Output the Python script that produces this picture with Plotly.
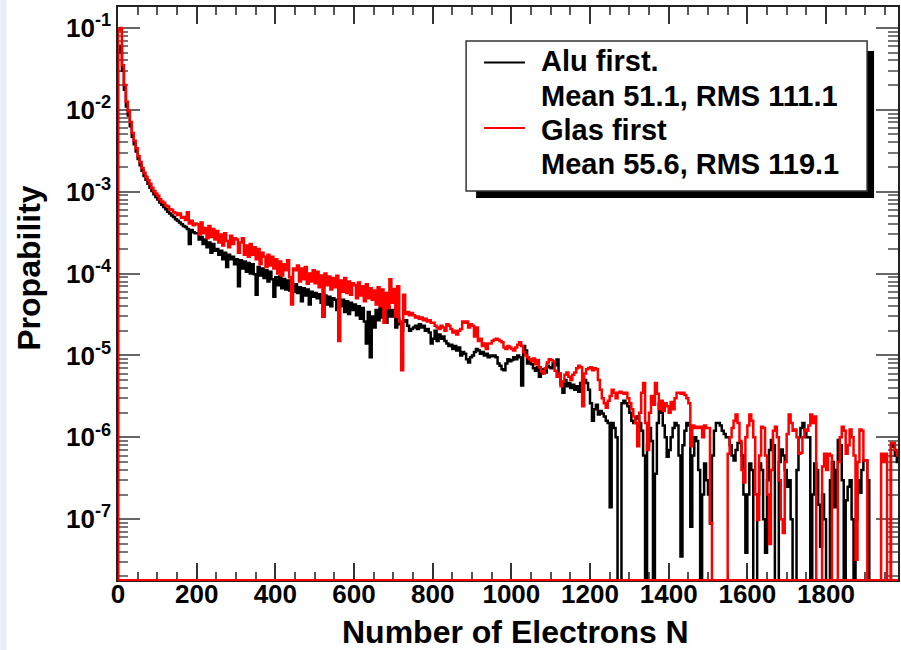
import plotly.graph_objects as go

# Histogram contents, bin width 5 electrons, starting at N = 0
BIN_WIDTH = 5

alu_first = [
    5.0e-2, 6.0e-2, 3.0e-2, 1.75e-2, 1.1e-2, 8.5e-3, 6.3e-3, 4.7e-3, 3.8e-3, 3.1e-3,
    2.5e-3, 2.1e-3, 1.8e-3, 1.55e-3, 1.4e-3, 1.25e-3, 1.12e-3, 1.02e-3, 9.3e-4, 8.6e-4,
    8.0e-4, 7.4e-4, 6.9e-4, 6.5e-4, 6.1e-4, 5.7e-4, 5.4e-4, 5.1e-4, 4.9e-4, 4.6e-4,
    4.4e-4, 4.2e-4, 4.0e-4, 3.8e-4, 3.7e-4, 3.5e-4, 2.3e-4, 3.4e-4, 3.2e-4, 3.1e-4,
    3.1e-4, 2.6e-4, 2.8e-4, 2.3e-4, 2.6e-4, 2.1e-4, 2.4e-4, 1.8e-4, 2.3e-4, 1.9e-4,
    2.0e-4, 1.7e-4, 1.9e-4, 1.5e-4, 1.8e-4, 1.2e-4, 1.7e-4, 1.5e-4, 1.6e-4, 1.3e-4,
    1.5e-4, 7.0e-5, 1.45e-4, 1.15e-4, 1.4e-4, 1.05e-4, 1.35e-4, 1.0e-4, 1.3e-4, 9.8e-5,
    5.5e-5, 1.2e-4, 9.5e-5, 1.15e-4, 8.8e-5, 1.1e-4, 8.0e-5, 1.05e-4, 8.5e-5, 5.2e-5,
    9.0e-5, 7.2e-5, 9.2e-5, 6.6e-5, 8.6e-5, 6.4e-5, 8.2e-5, 6.2e-5, 7.8e-5, 6.0e-5,
    7.4e-5, 5.8e-5, 6.8e-5, 4.6e-5, 6.6e-5, 5.4e-5, 6.4e-5, 4.2e-5, 6.0e-5, 5.2e-5,
    5.8e-5, 5.0e-5, 5.6e-5, 4.4e-5, 3.0e-5, 5.4e-5, 4.2e-5, 5.2e-5, 4.0e-5, 5.0e-5,
    4.8e-5, 3.6e-5, 4.6e-5, 4.0e-5, 4.8e-5, 3.4e-5, 4.6e-5, 3.2e-5, 4.4e-5, 3.6e-5,
    4.2e-5, 3.1e-5, 4.0e-5, 2.8e-5, 3.8e-5, 2.6e-5, 1.4e-5, 3.4e-5, 9.5e-6, 3.0e-5,
    2.2e-5, 3.6e-5, 2.7e-5, 3.8e-5, 2.9e-5, 3.7e-5, 2.5e-5, 3.9e-5, 3.0e-5, 3.6e-5,
    3.0e-5, 2.2e-5, 2.8e-5, 2.4e-5, 2.0e-5, 2.6e-5, 2.7e-5, 2.3e-5, 2.0e-5, 2.1e-5,
    2.2e-5, 2.3e-5, 2.1e-5, 2.4e-5, 2.2e-5, 2.3e-5, 2.0e-5, 2.1e-5, 1.9e-5, 1.4e-5,
    1.6e-5, 2.0e-5, 1.5e-5, 1.8e-5, 1.6e-5, 1.7e-5, 1.5e-5, 1.4e-5, 1.3e-5, 1.35e-5,
    1.2e-5, 1.3e-5, 1.15e-5, 1.25e-5, 1.0e-5, 1.1e-5, 1.05e-5, 9.0e-6, 8.2e-6, 9.5e-6,
    1.0e-5, 1.1e-5, 1.2e-5, 1.15e-5, 1.05e-5, 1.1e-5, 1.0e-5, 1.05e-5, 9.5e-6, 1.0e-5,
    9.8e-6, 1.0e-5, 9.5e-6, 8.0e-6, 7.5e-6, 6.8e-6, 6.6e-6, 8.0e-6, 9.0e-6, 8.5e-6,
    8.8e-6, 9.5e-6, 9.0e-6, 1.0e-5, 9.5e-6, 4.3e-6, 1.3e-5, 1.15e-5, 8.0e-6, 8.5e-6,
    7.8e-6, 7.0e-6, 6.5e-6, 7.2e-6, 5.5e-6, 6.0e-6, 6.8e-6, 6.2e-6, 7.5e-6, 7.2e-6,
    7.0e-6, 8.0e-6, 7.6e-6, 8.9e-6, 6.0e-6, 4.5e-6, 3.5e-6, 5.0e-6, 4.2e-6, 4.6e-6,
    4.0e-6, 4.4e-6, 3.8e-6, 4.2e-6, 3.6e-6, 4.6e-6, 4.8e-6, 5.0e-6, 4.6e-6, 3.8e-6,
    2.6e-6, 1.6e-6, 2.2e-6, 2.5e-6, 1.9e-6, 2.1e-6, 1.95e-6, 1.8e-6, 1.6e-6, 1.5e-6,
    1.4e-7, 1.5e-6, 1.3e-6, 1.0e-6, 0, 0, 2.6e-6, 2.8e-6, 2.6e-6, 2.4e-6,
    2.0e-6, 1.6e-6, 1.5e-6, 1.7e-6, 1.8e-6, 1.5e-6, 1.2e-6, 6.0e-7, 0, 8.0e-7,
    1.3e-6, 9.0e-7, 0, 3.6e-7, 1.5e-6, 2.6e-6, 2.0e-6, 1.4e-6, 1.0e-6, 5.8e-7,
    7.0e-7, 1.0e-6, 1.3e-6, 1.5e-6, 1.4e-6, 6.0e-7, 3.5e-8, 8.0e-7, 1.2e-6, 1.5e-6,
    1.4e-6, 8.1e-8, 6.0e-7, 1.0e-6, 9.0e-7, 4.0e-7, 0, 2.0e-7, 4.8e-7, 3.0e-7,
    2.0e-7, 8.9e-8, 6.0e-7, 1.2e-6, 1.5e-6, 1.5e-6, 1.4e-6, 1.2e-6, 1.1e-6, 1.0e-6,
    1.0e-6, 8.0e-7, 6.0e-7, 5.2e-7, 7.0e-7, 8.5e-7, 8.5e-7, 6.0e-7, 2.0e-7, 3.9e-8,
    2.0e-7, 4.8e-7, 4.0e-7, 0, 0, 2.0e-7, 4.8e-7, 4.0e-7, 1.0e-7, 3.9e-8,
    3.0e-7, 7.0e-7, 9.3e-7, 8.0e-7, 0, 0, 5.0e-7, 7.1e-7, 6.0e-7, 4.0e-7,
    2.5e-7, 3.0e-7, 1.0e-7, 0, 0, 4.0e-7, 1.0e-6, 1.3e-6, 1.5e-6, 1.2e-6,
    1.0e-6, 1.0e-6, 0, 2.0e-7, 4.8e-7, 4.0e-7, 1.5e-7, 4.6e-8, 2.0e-7, 1.0e-7,
    0, 0, 3.0e-7, 5.0e-7, 1.4e-7, 4.0e-7, 9.3e-7, 8.0e-7, 3.0e-7, 0,
    1.7e-7, 2.5e-7, 3.0e-7, 1.0e-7, 0, 1.0e-7, 3.0e-7, 2.1e-7, 4.0e-7, 5.2e-7,
    5.2e-7, 3.0e-7, 0, 0, 0, 0, 0, 0, 0, 0,
    0, 0, 0, 7.7e-7, 8.0e-7, 6.0e-7, 5.0e-7,
]

glas_first = [
    9.5e-2, 1.0e-1, 3.5e-2, 2.0e-2, 1.25e-2, 9.5e-3, 7.1e-3, 5.2e-3, 4.2e-3, 3.4e-3,
    2.7e-3, 2.3e-3, 1.95e-3, 1.7e-3, 1.52e-3, 1.38e-3, 1.25e-3, 1.12e-3, 1.02e-3, 9.5e-4,
    8.9e-4, 8.1e-4, 7.6e-4, 7.3e-4, 6.8e-4, 6.6e-4, 6.1e-4, 6.0e-4, 5.6e-4, 5.5e-4,
    5.2e-4, 5.4e-4, 4.8e-4, 4.9e-4, 4.5e-4, 5.6e-4, 4.1e-4, 4.4e-4, 3.9e-4, 4.1e-4,
    4.0e-4, 3.0e-4, 4.2e-4, 3.1e-4, 3.6e-4, 2.7e-4, 3.8e-4, 2.8e-4, 3.5e-4, 2.6e-4,
    3.3e-4, 2.4e-4, 3.0e-4, 2.2e-4, 3.1e-4, 2.5e-4, 2.1e-4, 2.9e-4, 2.3e-4, 2.7e-4,
    2.6e-4, 1.8e-4, 2.4e-4, 2.7e-4, 1.7e-4, 2.2e-4, 1.6e-4, 2.3e-4, 1.7e-4, 2.1e-4,
    1.5e-4, 2.0e-4, 1.3e-4, 1.8e-4, 1.6e-4, 1.2e-4, 1.7e-4, 1.25e-4, 1.6e-4, 1.15e-4,
    1.5e-4, 1.0e-4, 1.4e-4, 9.5e-5, 1.3e-4, 1.1e-4, 1.45e-4, 9.0e-5, 4.2e-5, 1.15e-4,
    1.1e-4, 1.25e-4, 8.0e-5, 1.15e-4, 8.5e-5, 1.2e-4, 7.5e-5, 1.0e-4, 8.0e-5, 1.1e-4,
    7.6e-5, 1.05e-4, 6.8e-5, 9.5e-5, 3.0e-5, 1.0e-4, 7.2e-5, 9.2e-5, 6.4e-5, 8.8e-5,
    6.8e-5, 9.4e-5, 1.5e-5, 8.2e-5, 6.0e-5, 8.8e-5, 5.8e-5, 8.0e-5, 5.5e-5, 7.6e-5,
    7.2e-5, 5.0e-5, 7.8e-5, 5.4e-5, 7.0e-5, 4.6e-5, 7.4e-5, 5.0e-5, 6.6e-5, 4.8e-5,
    6.2e-5, 4.2e-5, 6.8e-5, 4.0e-5, 6.4e-5, 2.5e-5, 5.8e-5, 3.8e-5, 8.5e-5, 4.4e-5,
    6.5e-5, 3.0e-5, 7.0e-5, 2.6e-5, 6.6e-6, 5.5e-5, 3.2e-5, 3.4e-5, 3.1e-5, 3.3e-5,
    3.1e-5, 2.9e-5, 3.0e-5, 2.8e-5, 2.9e-5, 2.7e-5, 2.8e-5, 2.6e-5, 2.7e-5, 2.5e-5,
    2.5e-5, 2.3e-5, 2.2e-5, 2.1e-5, 2.3e-5, 2.2e-5, 2.0e-5, 2.4e-5, 2.3e-5, 2.1e-5,
    1.9e-5, 2.0e-5, 1.8e-5, 2.0e-5, 2.1e-5, 2.6e-5, 2.5e-5, 2.6e-5, 2.2e-5, 2.4e-5,
    2.3e-5, 1.7e-5, 2.2e-5, 1.5e-5, 1.6e-5, 1.3e-5, 1.4e-5, 1.2e-5, 1.4e-5, 1.4e-5,
    1.5e-5, 1.55e-5, 1.6e-5, 1.55e-5, 1.5e-5, 1.45e-5, 1.25e-5, 1.2e-5, 1.3e-5, 1.25e-5,
    1.2e-5, 1.15e-5, 1.25e-5, 1.35e-5, 1.45e-5, 1.3e-5, 1.1e-5, 1.0e-5, 9.5e-6, 9.0e-6,
    8.5e-6, 9.2e-6, 7.8e-6, 8.8e-6, 7.2e-6, 6.4e-6, 6.0e-6, 7.0e-6, 8.2e-6, 9.0e-6,
    8.8e-6, 8.5e-6, 6.5e-6, 5.5e-6, 6.0e-6, 4.2e-6, 4.8e-6, 5.8e-6, 6.2e-6, 5.5e-6,
    5.0e-6, 5.8e-6, 6.2e-6, 7.0e-6, 7.5e-6, 7.2e-6, 2.4e-6, 6.0e-6, 6.8e-6, 7.0e-6,
    7.2e-6, 6.6e-6, 7.0e-6, 6.8e-6, 5.0e-6, 3.8e-6, 3.0e-6, 2.6e-6, 2.3e-6, 2.8e-6,
    3.2e-6, 3.8e-6, 3.5e-6, 3.0e-6, 3.5e-6, 3.6e-6, 3.5e-6, 3.4e-6, 3.5e-6, 3.0e-6,
    2.6e-6, 2.2e-6, 1.8e-6, 1.5e-6, 7.8e-7, 2.0e-6, 3.5e-6, 4.6e-6, 1.5e-6, 7.0e-7,
    2.0e-6, 3.2e-6, 2.5e-6, 4.6e-6, 3.4e-6, 2.2e-6, 2.8e-6, 2.1e-6, 2.6e-6, 2.4e-6,
    2.0e-6, 2.7e-6, 2.2e-6, 3.0e-6, 3.5e-6, 3.5e-6, 3.4e-6, 3.5e-6, 3.3e-6, 3.0e-6,
    2.6e-6, 7.8e-7, 1.4e-6, 1.3e-6, 1.35e-6, 1.3e-6, 1.35e-6, 1.0e-6, 1.4e-6, 1.3e-6,
    1.3e-6, 9.0e-8, 0, 0, 0, 0, 0, 0, 0, 0,
    6.3e-7, 1.0e-6, 1.3e-6, 1.6e-6, 1.9e-6, 1.5e-6, 9.0e-7, 4.0e-7, 2.8e-7, 1.0e-6,
    1.4e-6, 1.9e-6, 1.6e-6, 1.0e-6, 2.0e-7, 9.8e-8, 6.0e-7, 1.35e-6, 1.3e-6, 6.0e-7,
    2.0e-7, 5.0e-8, 4.0e-7, 1.2e-6, 1.35e-6, 1.0e-6, 3.0e-7, 1.0e-7, 6.8e-8, 5.0e-7,
    1.1e-6, 1.9e-6, 1.5e-6, 1.2e-6, 1.25e-6, 1.0e-6, 6.3e-7, 6.5e-7, 1.0e-6, 1.25e-6,
    1.2e-6, 1.4e-6, 1.9e-6, 1.5e-6, 1.8e-6, 0, 0, 0, 4.4e-7, 6.3e-7,
    4.0e-7, 6.3e-7, 6.0e-7, 0, 0, 0, 5.0e-7, 1.0e-6, 1.35e-6, 1.2e-6,
    6.3e-7, 8.0e-7, 1.25e-6, 1.0e-6, 6.0e-7, 3.2e-8, 5.0e-7, 1.25e-6, 1.2e-6, 5.2e-7,
    5.2e-7, 0, 0, 0, 0, 0, 0, 0, 6.3e-7, 5.0e-7,
    6.3e-7, 0, 0, 8.5e-7, 8.5e-7, 7.0e-7, 6.0e-7,
]

series_names = ["Alu first.", "Glas first"]
series_stats = ["Mean 51.1, RMS 111.1", "Mean 55.6, RMS 119.1"]
series_colors = ["#000000", "#ff0000"]

x_tick_vals = [0, 200, 400, 600, 800, 1000, 1200, 1400, 1600, 1800]
y_tick_exponents = [-7, -6, -5, -4, -3, -2, -1]
y_tick_vals = [10.0 ** e for e in y_tick_exponents]
y_tick_text = ["10<sup>%d</sup>" % e for e in y_tick_exponents]
y_minor_vals = [k * 10.0 ** e for e in range(-8, 0) for k in range(2, 10)]

X_RANGE = [0, 1983]
Y_RANGE_LOG = [-7.742, -0.745]
EMPTY_BIN = 1e-12  # empty bins fall below the axis, like a log-scale histogram

W, H = 901, 650
ML, MR, MT, MB = 118, 1, 7, 70
PW, PH = W - ML - MR, H - MT - MB


def px(xp):
    return (xp - ML) / PW


def py(yp):
    return (H - MB - yp) / PH


def step_trace(values, color):
    edges = [i * BIN_WIDTH for i in range(len(values) + 1)]
    ys = [v if v > 0 else EMPTY_BIN for v in values]
    xs = [0] + edges
    ys = [EMPTY_BIN] + ys + [ys[-1]]
    return go.Scatter(x=xs, y=ys, mode="lines", line=dict(color=color, width=2.5, shape="hv"),
                      showlegend=False, hoverinfo="skip")


fig = go.Figure()
fig.add_trace(step_trace(alu_first, series_colors[0]))
fig.add_trace(step_trace(glas_first, series_colors[1]))

FONT = "Liberation Sans, Arial, Helvetica, sans-serif"

fig.update_layout(
    width=W, height=H,
    margin=dict(l=ML, r=MR, t=MT, b=MB, pad=0),
    paper_bgcolor="white", plot_bgcolor="white",
    font=dict(family=FONT, color="black"),
    showlegend=False,
)

fig.update_xaxes(
    range=X_RANGE, showgrid=False, zeroline=False,
    showline=True, linecolor="#222", linewidth=1.5, mirror="allticks",
    ticks="inside", ticklen=17, tickwidth=1.5, tickcolor="#333",
    tickvals=x_tick_vals, ticktext=[str(v) for v in x_tick_vals],
    tickfont=dict(size=26, family=FONT, weight="bold", color="black"),
    ticklabelstandoff=-10,
    minor=dict(ticks="inside", ticklen=8, tickwidth=1.5, tickcolor="#555", dtick=50, tick0=0),
    layer="below traces",
)
fig.update_yaxes(
    type="log", range=Y_RANGE_LOG, showgrid=False, zeroline=False,
    showline=True, linecolor="#222", linewidth=1.5, mirror="allticks",
    ticks="inside", ticklen=22, tickwidth=1.5, tickcolor="#666",
    tickvals=y_tick_vals, ticktext=y_tick_text,
    tickfont=dict(size=26, family=FONT, weight="bold", color="black"),
    minor=dict(ticks="inside", ticklen=10, tickwidth=1.5, tickcolor="#777", tickvals=y_minor_vals),
    layer="below traces",
)

shapes = []
# faint blue strip at the left edge of the canvas
shapes.append(dict(type="rect", xref="paper", yref="paper", x0=px(0), x1=px(6), y0=py(H), y1=py(0),
                   fillcolor="#e6ecf8", line=dict(width=0), layer="below"))
# histogram baseline along the bottom frame
shapes.append(dict(type="line", xref="paper", yref="paper", x0=0, x1=1, y0=0, y1=0,
                   line=dict(color="#ff0000", width=2), layer="above"))
# legend box with drop shadow
shapes.append(dict(type="rect", xref="paper", yref="paper", x0=px(477), x1=px(876), y0=py(198), y1=py(51),
                   fillcolor="black", line=dict(width=0), layer="above"))
shapes.append(dict(type="rect", xref="paper", yref="paper", x0=px(467), x1=px(869), y0=py(191), y1=py(41),
                   fillcolor="white", line=dict(color="#333", width=1.5), layer="above"))
legend_rows = [62.5, 128]
for row_y, color in zip(legend_rows, series_colors):
    shapes.append(dict(type="line", xref="paper", yref="paper", x0=px(485), x1=px(526), y0=py(row_y), y1=py(row_y),
                       line=dict(color=color, width=2), layer="above"))
fig.update_layout(shapes=shapes)

annotations = []
text_rows = [(61, series_names[0]), (96, series_stats[0]), (130, series_names[1]), (164, series_stats[1])]
for row_y, txt in text_rows:
    annotations.append(dict(xref="paper", yref="paper", x=px(540), y=py(row_y), xanchor="left", yanchor="middle",
                            text=txt, showarrow=False,
                            font=dict(size=29, family=FONT, weight="bold", color="black")))
annotations.append(dict(xref="paper", yref="paper", x=px(517), y=py(632), xanchor="center", yanchor="middle",
                        text="Number of Electrons N", showarrow=False,
                        font=dict(size=32, family=FONT, weight="bold", color="black")))
annotations.append(dict(xref="paper", yref="paper", x=px(28), y=py(267.5), xanchor="center", yanchor="middle",
                        text="Propability", textangle=-90, showarrow=False,
                        font=dict(size=32, family=FONT, weight="bold", color="black")))
fig.update_layout(annotations=annotations)

fig.write_html("out.html")
